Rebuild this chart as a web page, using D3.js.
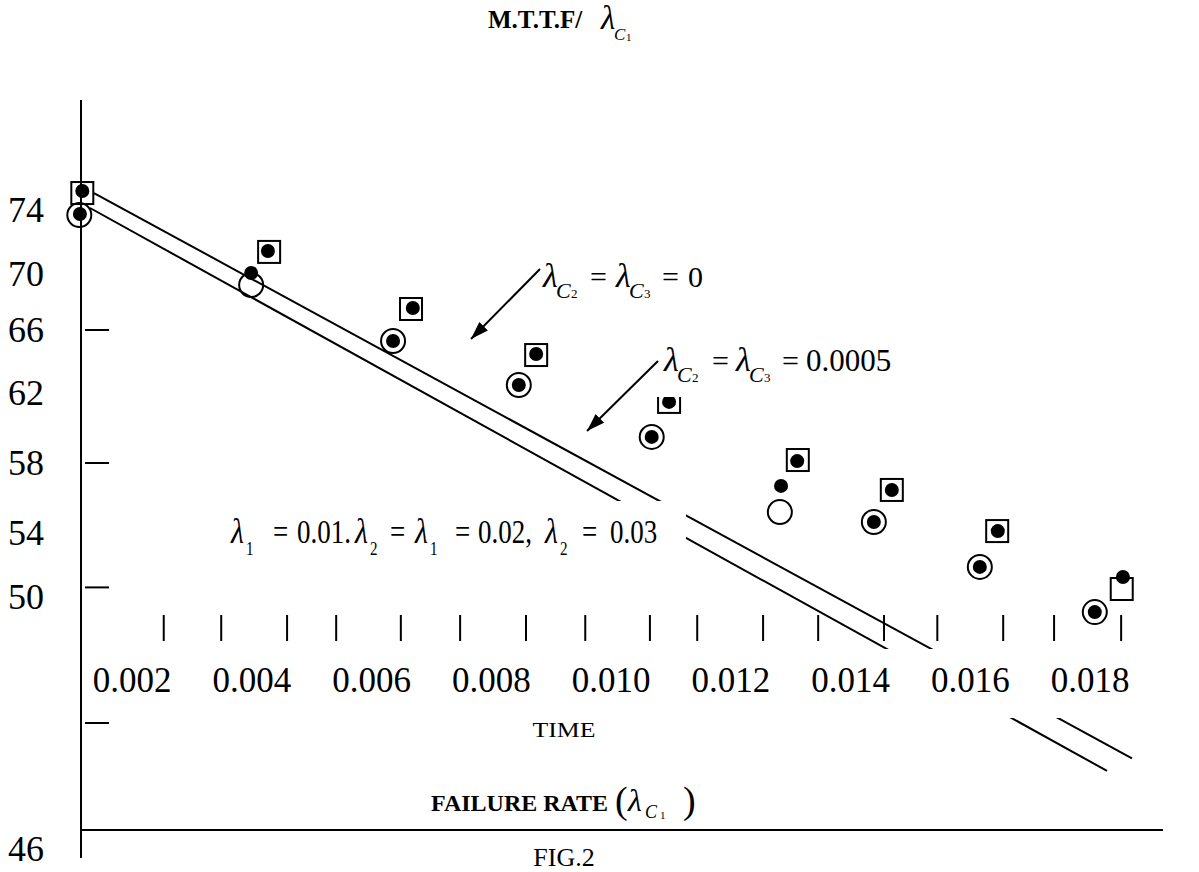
<!DOCTYPE html>
<html><head><meta charset="utf-8">
<script src="https://cdn.jsdelivr.net/npm/d3@7"></script>
<style>
html,body{margin:0;padding:0;background:#fff;}
svg{display:block;background:#fff;}
text{font-family:"Liberation Serif","Times New Roman",serif;fill:#000;white-space:pre;}
</style></head><body>
<svg id="chart" width="1199" height="872"></svg>
<script>
// ---- data ----
const yTickLabels = [74, 70, 66, 62, 58, 54, 50, 46];
const yDashTicks = [66, 58, 50.6, 48];
const xTickLabels = [0.002, 0.004, 0.006, 0.008, 0.010, 0.012, 0.014, 0.016, 0.018];
const xMinorTicks = [0.00253, 0.00349, 0.00459, 0.00541, 0.00649, 0.00748, 0.00858, 0.00957, 0.01065,
                     0.01144, 0.01254, 0.01346, 0.01456, 0.01545, 0.01655, 0.01740, 0.01852];

const squareX = [0.00117, 0.00429, 0.00666, 0.00875, 0.01097, 0.01312, 0.01469, 0.01645, 0.01853];
const squareY = [75.06, 71.38, 67.50, 64.41, 61.49, 58.17, 56.46, 54.11, 50.50];
const circleX = [0.00112, 0.00399, 0.00636, 0.00846, 0.01068, 0.01282, 0.01439, 0.01616, 0.01808];
const circleY = [73.69, 69.21, 65.30, 62.51, 59.49, 55.20, 54.63, 51.88, 49.76];
const dotAX = [0.00117, 0.00427, 0.00669, 0.00875, 0.01097, 0.01311, 0.01469, 0.01646, 0.01855];
const dotAY = [75.19, 71.44, 67.57, 64.48, 61.49, 58.11, 56.46, 54.11, 51.25];
const dotBX = [0.00113, 0.00399, 0.00636, 0.00846, 0.01068, 0.01284, 0.01439, 0.01616, 0.01808];
const dotBY = [73.75, 70.06, 65.30, 62.51, 59.49, 56.69, 54.63, 51.88, 49.76];

const upperLineX = [0.001365, 0.018701];
const upperLineY = [75.06, 47.44];
const lowerLineX = [0.001299, 0.018284];
const lowerLineY = [74.125, 47.24];

// ---- drawing ----
const svg = d3.select("#chart");
const x = d3.scaleLinear().domain([0.002, 0.018]).range([132, 1090]);
const y = d3.scaleLinear().domain(yTickLabels).range([210, 274, 330, 393, 463, 533, 597, 849]);
const fmt = d3.format(".3f");

svg.append("rect").attr("width", 1199).attr("height", 872).attr("fill", "#fff");

const defs = svg.append("defs");
defs.append("marker").attr("id", "arrow").attr("viewBox", "0 0 18 12")
  .attr("refX", 18).attr("refY", 6).attr("markerWidth", 18).attr("markerHeight", 12)
  .attr("markerUnits", "userSpaceOnUse").attr("orient", "auto")
  .append("path").attr("d", "M0,0 L18,6 L0,12 Z").attr("fill", "#000");

// axes
svg.append("line").attr("x1", 81).attr("x2", 81).attr("y1", 100).attr("y2", 858)
  .attr("stroke", "#000").attr("stroke-width", 2);
svg.append("line").attr("x1", 81).attr("x2", 1163).attr("y1", 830).attr("y2", 830)
  .attr("stroke", "#000").attr("stroke-width", 2);

svg.append("g").selectAll("line").data(yDashTicks).join("line")
  .attr("x1", 85).attr("x2", 109).attr("y1", d => y(d)).attr("y2", d => y(d))
  .attr("stroke", "#000").attr("stroke-width", 2);

svg.append("g").selectAll("text").data(yTickLabels).join("text")
  .attr("x", 8).attr("y", d => y(d) + 12).attr("font-size", 36).text(d => d);

svg.append("g").selectAll("line").data(xMinorTicks).join("line")
  .attr("x1", d => x(d)).attr("x2", d => x(d)).attr("y1", 615).attr("y2", 641)
  .attr("stroke", "#000").attr("stroke-width", 2);

// trend lines
const lineGen = d3.line().x(d => x(d[0])).y(d => y(d[1]));
[[upperLineX, upperLineY], [lowerLineX, lowerLineY]].forEach(([lx, ly]) => {
  svg.append("path").attr("d", lineGen(d3.zip(lx, ly)))
    .attr("fill", "none").attr("stroke", "#000").attr("stroke-width", 2);
});

// markers
svg.append("g").selectAll("rect").data(d3.zip(squareX, squareY)).join("rect")
  .attr("x", d => x(d[0]) - 11).attr("y", d => y(d[1]) - 11).attr("width", 22).attr("height", 22)
  .attr("fill", "none").attr("stroke", "#000").attr("stroke-width", 2);
svg.append("g").selectAll("circle").data(d3.zip(circleX, circleY)).join("circle")
  .attr("cx", d => x(d[0])).attr("cy", d => y(d[1])).attr("r", 12)
  .attr("fill", "none").attr("stroke", "#000").attr("stroke-width", 2);
svg.append("g").selectAll("circle").data(d3.zip(dotAX, dotAY).concat(d3.zip(dotBX, dotBY))).join("circle")
  .attr("cx", d => x(d[0])).attr("cy", d => y(d[1])).attr("r", 7).attr("fill", "#000");

// white label backgrounds (they interrupt the lines as in the original)
svg.append("rect").attr("x", 88).attr("y", 649).attr("width", 1111).attr("height", 69).attr("fill", "#fff");
svg.append("rect").attr("x", 225).attr("y", 501).attr("width", 461).attr("height", 55).attr("fill", "#fff");
svg.append("rect").attr("x", 655).attr("y", 335).attr("width", 255).attr("height", 62).attr("fill", "#fff");

// x tick labels
svg.append("g").selectAll("text").data(xTickLabels).join("text")
  .attr("x", d => x(d)).attr("y", 692).attr("text-anchor", "middle").attr("font-size", 35)
  .text(d => fmt(d));

// helper for math-like labels
function pieces(list, parent) {
  const t = (parent || svg).append("text");
  list.forEach(p => {
    t.append("tspan").attr("x", p[0]).attr("y", p[1]).attr("font-size", p[3])
      .attr("font-style", p[4] ? "italic" : "normal").attr("font-weight", p[5] ? "bold" : "normal")
      .text(p[2]);
  });
  return t;
}

// title
pieces([[488, 28, "M.T.T.F/", 25, false, true],
        [601, 29, "λ", 33, true], [614, 40, "C", 17, true], [626, 41, "1", 11, false]]);

// annotation 1
pieces([[543, 287, "λ", 34, true], [556, 298, "C", 22, true], [571, 298, "2", 13, false],
        [590, 287, "=", 30, false],
        [616, 287, "λ", 34, true], [629, 298, "C", 22, true], [644, 298, "3", 13, false],
        [662, 287, "=", 30, false], [688, 287, "0", 30, false]]);
svg.append("line").attr("x1", 540).attr("y1", 269).attr("x2", 471).attr("y2", 339)
  .attr("stroke", "#000").attr("stroke-width", 2).attr("marker-end", "url(#arrow)");

// annotation 2
pieces([[664, 371, "λ", 34, true], [677, 382, "C", 22, true], [692, 382, "2", 13, false],
        [712, 371, "=", 30, false],
        [736, 371, "λ", 34, true], [749, 382, "C", 22, true], [764, 382, "3", 13, false],
        [782, 371, "=", 30, false], [806, 371, "0.0005", 31, false]]);
svg.append("line").attr("x1", 658).attr("y1", 361).attr("x2", 587).attr("y2", 431)
  .attr("stroke", "#000").attr("stroke-width", 2).attr("marker-end", "url(#arrow)");

// annotation 3 (vertically stretched like the original equation object)
const a3 = svg.append("g").attr("transform", "translate(0,543) scale(1,1.22)");
pieces([[231, 0, "λ", 30, true], [246, 10, "1", 15, false],
        [273, 0, "=", 27, false], [297, 0, "0.01.", 27, false],
        [355, 0, "λ", 30, true], [370, 10, "2", 15, false],
        [390, 0, "=", 27, false],
        [415, 0, "λ", 30, true], [430, 10, "1", 15, false],
        [455, 0, "=", 27, false], [478, 0, "0.02,", 27, false],
        [545, 0, "λ", 30, true], [560, 10, "2", 15, false],
        [582, 0, "=", 27, false], [610, 0, "0.03", 27, false]], a3);

// axis titles
svg.append("text").attr("x", 564).attr("y", 737).attr("text-anchor", "middle")
  .attr("font-size", 22).attr("textLength", 63).attr("lengthAdjust", "spacingAndGlyphs").text("TIME");
pieces([[431, 811, "FAILURE RATE", 24, false, true],
        [615, 813, "(", 38, false],
        [628, 811, "λ", 32, true], [645, 818, "C", 18, true], [660, 819, "1", 11, false],
        [683, 813, ")", 38, false]]);
svg.append("text").attr("x", 564).attr("y", 866).attr("text-anchor", "middle")
  .attr("font-size", 26).text("FIG.2");
</script>
</body></html>
